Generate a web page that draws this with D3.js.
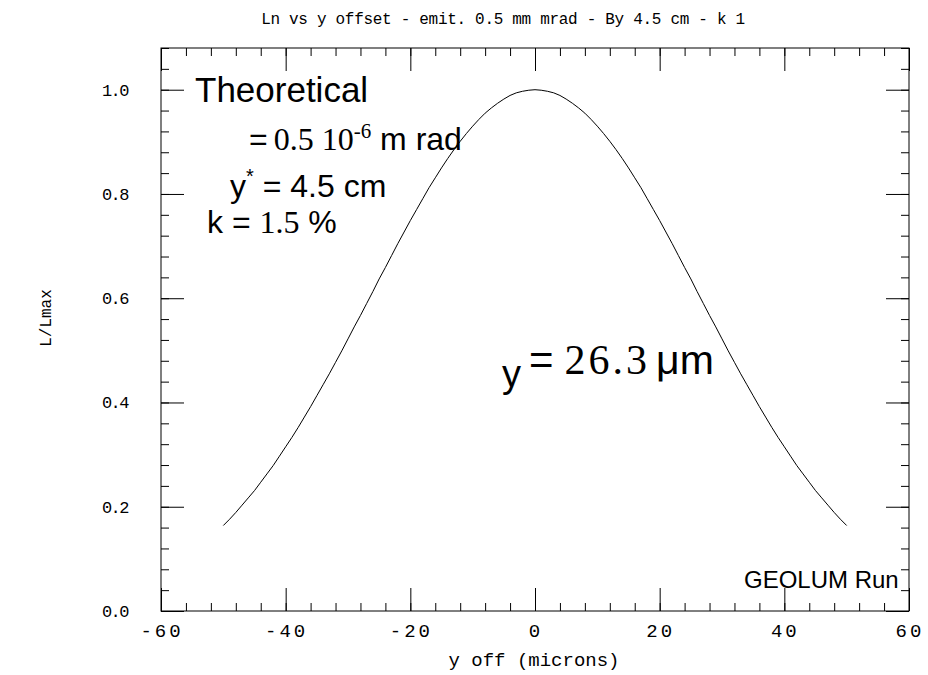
<!DOCTYPE html>
<html>
<head>
<meta charset="utf-8">
<script src="https://cdn.jsdelivr.net/npm/d3@7/dist/d3.min.js"></script>
<style>
  body { margin: 0; background: #fff; }
  svg text.hershey { font-family: "Liberation Mono", "DejaVu Sans Mono", monospace; fill: #000; }
  .sans { font-family: "Liberation Sans", Arial, sans-serif; }
  .serif { font-family: "Liberation Serif", "Times New Roman", serif; }
</style>
</head>
<body>
<div id="chart"></div>
<script>
// y offset in microns
const yOffset = [
  -50, -49, -48, -47, -46, -45, -44, -43, -42, -41,
  -40, -39, -38, -37, -36, -35, -34, -33, -32, -31,
  -30, -29, -28, -27, -26, -25, -24, -23, -22, -21,
  -20, -19, -18, -17, -16, -15, -14, -13, -12, -11,
  -10, -9, -8, -7, -6, -5, -4, -3, -2, -1,
  0,
  1, 2, 3, 4, 5, 6, 7, 8, 9, 10,
  11, 12, 13, 14, 15, 16, 17, 18, 19, 20,
  21, 22, 23, 24, 25, 26, 27, 28, 29, 30,
  31, 32, 33, 34, 35, 36, 37, 38, 39, 40,
  41, 42, 43, 44, 45, 46, 47, 48, 49, 50
];
// L/Lmax
const lumRatio = [
  0.164, 0.176, 0.189, 0.203, 0.217, 0.231, 0.247, 0.263, 0.279, 0.297,
  0.315, 0.333, 0.352, 0.372, 0.392, 0.413, 0.434, 0.455, 0.477, 0.499,
  0.522, 0.545, 0.567, 0.590, 0.613, 0.637, 0.659, 0.682, 0.705, 0.727,
  0.749, 0.770, 0.791, 0.812, 0.831, 0.850, 0.868, 0.885, 0.901, 0.916,
  0.930, 0.943, 0.955, 0.965, 0.974, 0.982, 0.989, 0.994, 0.997, 0.999,
  1.000,
  0.999, 0.997, 0.994, 0.989, 0.982, 0.974, 0.965, 0.955, 0.943, 0.930,
  0.916, 0.901, 0.885, 0.868, 0.850, 0.831, 0.812, 0.791, 0.770, 0.749,
  0.727, 0.705, 0.682, 0.659, 0.637, 0.613, 0.590, 0.567, 0.545, 0.522,
  0.499, 0.477, 0.455, 0.434, 0.413, 0.392, 0.372, 0.352, 0.333, 0.315,
  0.297, 0.279, 0.263, 0.247, 0.231, 0.217, 0.203, 0.189, 0.176, 0.164
];
const xTicks = [-60, -40, -20, 0, 20, 40, 60];
const yTicks = [0.0, 0.2, 0.4, 0.6, 0.8, 1.0];
const xDomain = [-60, 60];
const yDomain = [0, 1.08];

const titleText = "Ln vs y offset - emit. 0.5 mm mrad - By 4.5 cm - k  1";
const xTitle = "y off (microns)";
const yTitle = "L/Lmax";

//Setup Dimensions
const width = 928;
const height = 675;
const frame = { left: 161, right: 909, top: 48, bottom: 611 };
const majorLen = 23;
const minorLen = 8;

const svg = d3.select("#chart")
  .append("svg")
  .attr("width", width)
  .attr("height", height);

const x = d3.scaleLinear().domain(xDomain).range([frame.left, frame.right]);
const y = d3.scaleLinear().domain(yDomain).range([frame.bottom, frame.top]);

const xMinor = d3.range(-60, 60.001, 4);
const yMinor = d3.range(0, 1.0801, 0.04);

function tickAxis(axisFn, scale, values, len) {
  return axisFn(scale).tickValues(values).tickSize(-len).tickSizeOuter(0).tickFormat("");
}

//Minor and major ticks on all four sides, pointing inward
const sides = [
  [d3.axisBottom, x, `translate(0,${frame.bottom})`, xMinor, xTicks],
  [d3.axisTop, x, `translate(0,${frame.top})`, xMinor, xTicks],
  [d3.axisLeft, y, `translate(${frame.left},0)`, yMinor, yTicks],
  [d3.axisRight, y, `translate(${frame.right},0)`, yMinor, yTicks]
];
sides.forEach(([fn, sc, tr, minor, major]) => {
  [[minor, minorLen], [major, majorLen]].forEach(([vals, len]) => {
    const g = svg.append("g")
      .attr("transform", tr)
      .call(tickAxis(fn, sc, vals, len));
    g.select(".domain").remove();
    g.selectAll("line").attr("stroke", "#000").attr("stroke-width", 1);
  });
});

//Tick labels
const xLab = svg.append("g")
  .attr("transform", `translate(0,${frame.bottom})`)
  .call(d3.axisBottom(x).tickValues(xTicks).tickSize(0).tickPadding(13).tickFormat(d => String(d)));
xLab.select(".domain").remove();
xLab.selectAll("text")
  .attr("class", "hershey").attr("font-family", null)
  .attr("font-size", 19).attr("letter-spacing", 3).attr("dx", 0.5);

const yLab = svg.append("g")
  .attr("transform", `translate(${frame.left},0)`)
  .call(d3.axisLeft(y).tickValues(yTicks).tickSize(0).tickPadding(33).tickFormat(d3.format(".1f")));
yLab.select(".domain").remove();
yLab.selectAll("text")
  .attr("class", "hershey").attr("font-family", null)
  .attr("font-size", 17).attr("letter-spacing", -1.5);

//Frame
svg.append("rect")
  .attr("x", frame.left).attr("y", frame.top)
  .attr("width", frame.right - frame.left)
  .attr("height", frame.bottom - frame.top)
  .attr("fill", "none")
  .attr("stroke", "#000")
  .attr("stroke-width", 1);

//Curve
const line = d3.line()
  .x((d, i) => x(yOffset[i]))
  .y(d => y(d));
svg.append("path")
  .datum(lumRatio)
  .attr("fill", "none")
  .attr("stroke", "#000")
  .attr("stroke-width", 1)
  .attr("d", line);

//Titles
svg.append("text").attr("class", "hershey")
  .attr("x", 503).attr("y", 24)
  .attr("font-size", 16)
  .attr("letter-spacing", -0.3)
  .attr("text-anchor", "middle")
  .text(titleText);
svg.append("text").attr("class", "hershey")
  .attr("x", 534).attr("y", 666)
  .attr("font-size", 19)
  .attr("text-anchor", "middle")
  .text(xTitle);
svg.append("text").attr("class", "hershey")
  .attr("transform", "translate(51,318) rotate(-90)")
  .attr("font-size", 16)
  .attr("text-anchor", "middle")
  .text(yTitle);

//Annotations
function note(xp, yp, size, parts) {
  const t = svg.append("text").attr("x", xp).attr("y", yp).attr("font-size", size).attr("fill", "#000");
  parts.forEach(p => {
    const s = t.append("tspan").attr("class", p.cls || "sans").text(p.t);
    if (p.dx) s.attr("dx", p.dx);
    if (p.dy) s.attr("dy", p.dy);
    if (p.size) s.attr("font-size", p.size);
    if (p.ls) s.attr("letter-spacing", p.ls);
  });
}
note(195, 102, 35, [{ t: "Theoretical" }]);
note(249, 150, 32, [
  { t: "=" },
  { t: "0.5 10", cls: "serif", dx: 6 },
  { t: "-6", cls: "serif", size: 21, dy: -12 },
  { t: " m rad", dy: 12 }
]);
note(230, 197, 32, [
  { t: "y" },
  { t: "*", size: 20, dy: -14 },
  { t: " = 4.5 cm", dy: 14 }
]);
note(207, 233, 32, [
  { t: "k = " },
  { t: "1.5", cls: "serif" },
  { t: " %" }
]);
note(502, 387, 38, [{ t: "y" }]);
note(529, 374, 42, [
  { t: "=" },
  { t: "26.3", cls: "serif", size: 42, dx: 11, ls: 3 },
  { t: "μm", size: 41, dx: 6 }
]);
note(744, 588, 24, [{ t: "GEOLUM Run" }]);
</script>
</body>
</html>
